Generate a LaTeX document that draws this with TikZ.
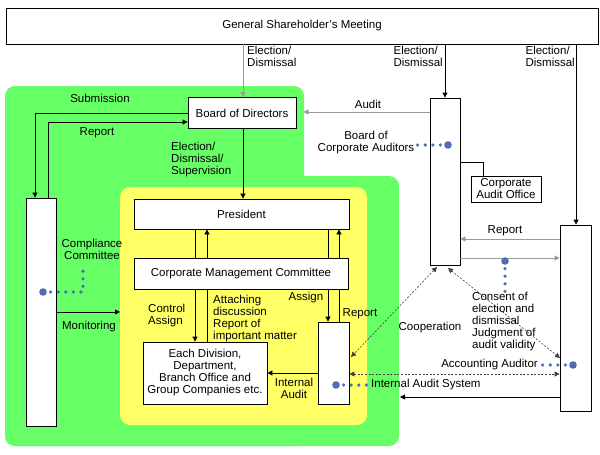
\documentclass[tikz,border=0pt]{standalone}
\usepackage{fontspec}
\setmainfont{Liberation Sans}
\usetikzlibrary{arrows.meta}
\definecolor{grn}{HTML}{66FF66}
\definecolor{yel}{HTML}{FFFF66}
\definecolor{dotc}{HTML}{4F6DB3}
\definecolor{gline}{HTML}{999999}
\begin{document}
\begin{tikzpicture}[x=1pt,y=-1pt,
  font=\fontsize{11.5}{12}\selectfont,
  box/.style={draw, fill=white, line width=0.8pt, inner sep=0pt},
  lbl/.style={inner sep=0pt},
  conn/.style={line width=0.8pt},
  arr/.style={conn, -{Triangle[length=5pt,width=5pt]}},
  garr/.style={arr, draw=gline},
  dash2/.style={line width=0.6pt, draw=black!75, dash pattern=on 2pt off 1.6pt, {Triangle[length=5pt,width=5pt]}-{Triangle[length=5pt,width=5pt]}},
  dotline/.style={draw=dotc, line width=3.6pt, line cap=round, dash pattern=on 0pt off 7.6pt},
  bigdot/.style={fill=dotc}
]
\useasboundingbox (0,0) rectangle (600,455);
\fill[white] (0,0) rectangle (600,455);
% background regions
\fill[grn, rounded corners=10pt] (5,86) rectangle (304,446);
\fill[grn, rounded corners=10pt] (5,176) rectangle (399,446);
\fill[yel, rounded corners=10pt] (120,187) rectangle (367,425);

% boxes
\node[box, minimum width=592pt, minimum height=36pt] (gsm) at (302,26) {General Shareholder’s Meeting};
\node[box, minimum width=108pt, minimum height=31pt] (bod) at (242,113) {Board of Directors};
\node[box, minimum width=30pt, minimum height=167pt] (bca) at (445,181.5) {};
\node[box, minimum width=70pt, minimum height=26pt, align=center] (cao) at (506,189) {Corporate\\Audit Office};
\node[box, minimum width=31pt, minimum height=186pt] (aa) at (575.5,318) {};
\node[box, minimum width=30pt, minimum height=228pt] (cc) at (41,312) {};
\node[box, minimum width=215pt, minimum height=30pt] (pres) at (241.5,214) {President};
\node[box, minimum width=214pt, minimum height=31pt] (cmc) at (241,273.5) {Corporate Management Committee};
\node[box, minimum width=124pt, minimum height=62pt, align=center] (ediv) at (205,373) {Each Division,\\Department,\\Branch Office and\\Group Companies etc.};
\node[box, minimum width=31pt, minimum height=82pt] (ia) at (333.5,363) {};

% free ends
\coordinate (yl) at (120,312);
\coordinate (gend) at (400,397);
\coordinate (d1) at (448,268);
\coordinate (d2) at (560,358);
\coordinate (d3) at (437,267);
\coordinate (d4) at (351,357);

% connectors from GSM
\draw[garr] (243,0 |- gsm.south) -- (243,0 |- bod.north);
\draw[arr] (445,0 |- gsm.south) -- (445,0 |- bca.north);
\draw[arr] (576,0 |- gsm.south) -- (576,0 |- aa.north);

% audit
\draw[garr, shorten >=7pt] (bca.west |- 0,112) -- (bod.east |- 0,112);
% submission / report
\draw[arr] (bod.west |- 0,113) -| (35,0 |- cc.north);
\draw[arr] (48,0 |- cc.north) |- (bod.west |- 0,122);
% BoD -> President
\draw[arr] (243,0 |- bod.south) -- (243,0 |- pres.north);
% president <-> cmc <-> division
\draw[conn] (195,0 |- pres.south) -- (195,0 |- cmc.north);
\draw[arr] (195,0 |- cmc.south) -- (195,0 |- ediv.north);
\draw[conn] (207,0 |- ediv.north) -- (207,0 |- cmc.south);
\draw[arr] (207,0 |- cmc.north) -- (207,0 |- pres.south);
\draw[conn] (328,0 |- pres.south) -- (328,0 |- cmc.north);
\draw[arr] (328,0 |- cmc.south) -- (328,0 |- ia.north);
\draw[conn] (339,0 |- ia.north) -- (339,0 |- cmc.south);
\draw[arr] (339,0 |- cmc.north) -- (339,0 |- pres.south);
% internal audit
\draw[arr] (ia.west |- 0,373) -- (ediv.east |- 0,373);
% monitoring
\draw[arr] (cc.east |- 0,312) -- (yl);
% corporate audit office
\draw[conn] (bca.east |- 0,162) -| (483,0 |- cao.north);
% report / consent
\draw[garr] (aa.west |- 0,239) -- (bca.east |- 0,239);
\draw[garr] (bca.east |- 0,258) -- (aa.west |- 0,258);
% dashed cooperation lines
\draw[dash2] (d1) -- (d2);
\draw[dash2] (d3) -- (d4);
\draw[dash2] (ia.east |- 0,374) -- (aa.west |- 0,374);
% internal audit system arrow
\draw[arr] (aa.west |- 0,397) -- (gend);

% labels
\node[lbl, anchor=north west, align=left] at (247,46) {Election/\\Dismissal};
\node[lbl, anchor=north east, align=left] at (443,46) {Election/\\Dismissal};
\node[lbl, anchor=north east, align=left] at (575,46) {Election/\\Dismissal};
\node[lbl] at (100,98) {Submission};
\node[lbl] at (97,133) {Report};
\node[lbl] at (368,104) {Audit};
\node[lbl, align=center] at (366,143) {Board of\\Corporate Auditors};
\node[lbl, anchor=north west, align=left] at (171,142) {Election/\\Dismissal/\\Supervision};
\node[lbl, align=center] at (92,249) {Compliance\\Committee};
\node[lbl] at (89,327) {Monitoring};
\node[lbl, anchor=north west, align=left] at (148,304) {Control\\Assign};
\node[lbl, anchor=north west, align=left] at (213,295) {Attaching\\discussion\\Report of\\important matter};
\node[lbl] at (306,298) {Assign};
\node[lbl] at (360,314) {Report};
\node[lbl, align=center] at (294,388) {Internal\\Audit};
\node[lbl] at (505,231) {Report};
\node[lbl, anchor=north west, align=left] at (472,292) {Consent of\\election and\\dismissal\\Judgment of\\audit validity};
\node[lbl] at (430,328) {Cooperation};
\node[lbl, anchor=east] at (538,365) {Accounting Auditor};
\node[lbl, anchor=west] at (371,385) {Internal Audit System};

% dots
\draw[dotline] (43,292) -- (83,292) -- (83,266);
\fill[dotc] (43,292) circle (3.8pt);
\draw[dotline] (448,145) -- (417,145);
\fill[dotc] (448,145) circle (3.8pt);
\draw[dotline] (505,261) -- (505,294);
\fill[dotc] (505,261) circle (3.8pt);
\draw[dotline] (573,365) -- (541,365);
\fill[dotc] (573,365) circle (3.8pt);
\draw[dotline] (336,385) -- (368,385);
\fill[dotc] (336,385) circle (3.8pt);
\end{tikzpicture}
\end{document}
